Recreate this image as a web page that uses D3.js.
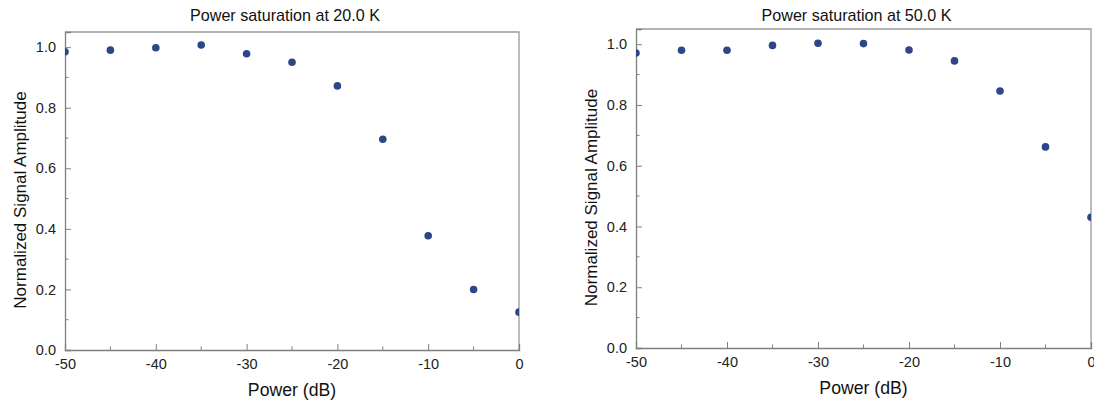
<!DOCTYPE html>
<html>
<head>
<meta charset="utf-8">
<script src="https://cdn.jsdelivr.net/npm/d3@7"></script>
<style>
  body { margin: 0; background: #fff; }
  svg { display: block; font-family: 'Liberation Sans', Arial, sans-serif; }
</style>
</head>
<body>
<svg width="1094" height="402"></svg>
<script>
// Data
const power = [-50, -45, -40, -35, -30, -25, -20, -15, -10, -5, 0]
const amp20 = [0.985, 0.99, 0.998, 1.007, 0.978, 0.95, 0.872, 0.696, 0.377, 0.2, 0.125]
const amp50 = [0.971, 0.98, 0.98, 0.996, 1.003, 1.002, 0.981, 0.945, 0.846, 0.662, 0.43]
const xTicks = [-50, -40, -30, -20, -10, 0]
const xMinor = [-45, -35, -25, -15, -5]
const yTicks = [0.0, 0.2, 0.4, 0.6, 0.8, 1.0]
const yMinor = [0.1, 0.3, 0.5, 0.7, 0.9]
const titles = ['Power saturation at 20.0 K', 'Power saturation at 50.0 K']

const svg = d3.select('svg')
const axisColor = '#7f7f7f'
const dotColor = '#2e4587'
const font = "'Liberation Sans', Arial, sans-serif"

drawPanel({left: 65, right: 519, top: 32, bottom: 350}, amp20, titles[0], 'c0')
drawPanel({left: 636, right: 1091, top: 29, bottom: 348}, amp50, titles[1], 'c1')

function drawPanel(box, values, title, id) {
  const x = d3.scaleLinear().domain([-50, 0]).range([box.left, box.right])
  const y = d3.scaleLinear().domain([0, 1.05]).range([box.bottom, box.top])
  const g = svg.append('g')

  // clip so end points get cut at the frame like the original
  svg.append('clipPath').attr('id', id)
    .append('rect')
    .attr('x', box.left).attr('y', box.top)
    .attr('width', box.right - box.left).attr('height', box.bottom - box.top)

  // frame top + right
  g.append('path')
    .attr('d', `M${box.left},${box.top}H${box.right}V${box.bottom}`)
    .attr('fill', 'none').attr('stroke', '#9a9a9a').attr('stroke-width', 1.3)

  // x axis, ticks pointing inward, plain hyphen minus
  const xAxis = g.append('g').attr('transform', `translate(0,${box.bottom})`)
    .call(d3.axisBottom(x).tickValues(xTicks).tickSize(-6).tickPadding(12).tickFormat(d => String(d)))
  xAxis.append('g').selectAll('line').data(xMinor).join('line')
    .attr('x1', d => x(d)).attr('x2', d => x(d))
    .attr('y1', 0).attr('y2', -3.5)
    .attr('stroke', axisColor)

  // y axis
  const yAxis = g.append('g').attr('transform', `translate(${box.left},0)`)
    .call(d3.axisLeft(y).tickValues(yTicks).tickSize(-6).tickPadding(9).tickFormat(d3.format('.1f')))
  yAxis.append('g').selectAll('line').data(yMinor).join('line')
    .attr('y1', d => y(d)).attr('y2', d => y(d))
    .attr('x1', 0).attr('x2', 3.5)
    .attr('stroke', axisColor)

  ;[xAxis, yAxis].forEach(a => {
    a.attr('font-family', font).attr('font-size', 14.5)
    a.select('.domain').attr('stroke', axisColor).attr('stroke-width', 1.3)
    a.selectAll('.tick line').attr('stroke', axisColor)
    a.selectAll('.tick text').attr('fill', '#222')
  })
  xAxis.selectAll('.tick text').attr('dy', '0.45em')

  // points
  g.append('g').attr('clip-path', `url(#${id})`)
    .selectAll('circle').data(power).join('circle')
    .attr('cx', d => x(d))
    .attr('cy', (d, i) => y(values[i]))
    .attr('r', 3.8)
    .attr('fill', dotColor)

  const cx = (box.left + box.right) / 2
  g.append('text')
    .attr('transform', `translate(${cx - 7},21) scale(0.96,1)`)
    .attr('text-anchor', 'middle')
    .style('font-size', '16.8px').attr('fill', '#111')
    .text(title)

  g.append('text')
    .attr('transform', `translate(${cx},${box.bottom + 46}) scale(0.93,1)`)
    .attr('text-anchor', 'middle')
    .style('font-size', '19px').attr('fill', '#111')
    .text('Power (dB)')

  g.append('text')
    .attr('transform', `translate(${box.left - 39},${(box.top + box.bottom) / 2 + 9}) rotate(-90)`)
    .attr('text-anchor', 'middle')
    .style('font-size', '17px').attr('fill', '#111')
    .text('Normalized Signal Amplitude')
}
</script>
</body>
</html>
